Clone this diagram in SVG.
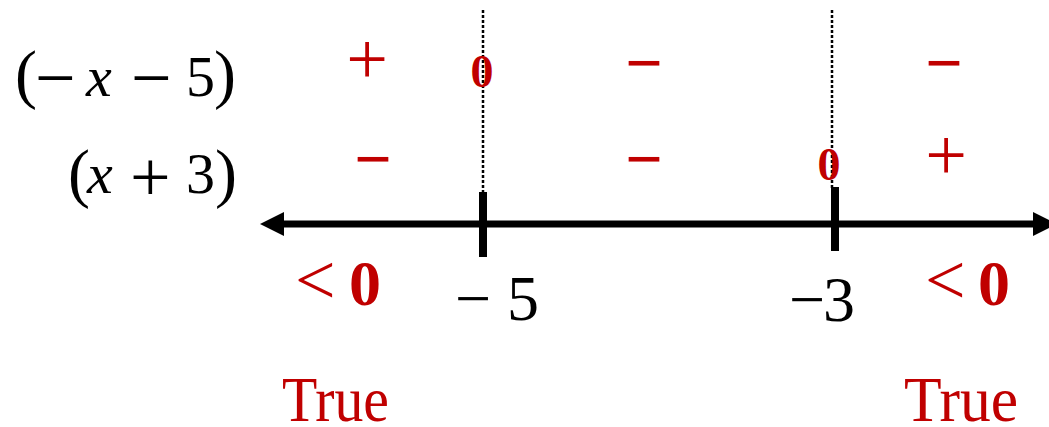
<svg xmlns="http://www.w3.org/2000/svg" width="1049" height="427" viewBox="0 0 1049 427">
<style>
.lbl{font-family:"Liberation Serif","Times New Roman",serif;fill:#000;font-size:58px}
.pr{font-size:66px}
.mn{font-size:72px}
.vx{font-size:58px;font-style:italic}
.red{font-family:"Liberation Serif","Times New Roman",serif;fill:#C00000}
.sg{font-size:66px;text-anchor:middle}
.pl{font-size:74px;text-anchor:middle}
.zr{font-size:46px;font-weight:bold;text-anchor:middle}
.lt{font-size:72px}
.num{font-family:"Liberation Serif","Times New Roman",serif;fill:#000;font-size:64px}
.tr{font-size:64px}
.dot{stroke:#000;stroke-width:2.5;stroke-dasharray:3 2;fill:none}
.tick{stroke:#000;stroke-width:8}
</style>
<g id="row-labels">
<text class="lbl" y="96"><tspan class="pr" x="15" y="96">(</tspan><tspan class="mn" x="35" y="102">−</tspan><tspan class="vx" x="86" y="96">x</tspan><tspan class="mn" x="131" y="102">−</tspan><tspan x="186" y="96">5</tspan><tspan class="pr" x="214" y="96">)</tspan></text>
<text class="lbl" y="193"><tspan class="pr" x="68" y="195">(</tspan><tspan class="vx" x="87" y="193">x</tspan><tspan class="mn" x="130" y="201">+</tspan><tspan x="186" y="193">3</tspan><tspan class="pr" x="215" y="195">)</tspan></text>
</g>
<g id="connectors">
<line class="dot" x1="483" y1="10" x2="483" y2="192"/>
<line class="dot" x1="832" y1="10" x2="832" y2="188"/>
<line x1="283" y1="224" x2="1034" y2="224" stroke="#000" stroke-width="7"/>
<path d="M260,224 L284,212 L284,236 Z" fill="#000"/>
<path d="M1057,224 L1033,212 L1033,236 Z" fill="#000"/>
<line class="tick" x1="483" y1="192" x2="483" y2="257"/>
<line class="tick" x1="835" y1="187" x2="835" y2="251"/>
</g>
<g id="signs-row1">
<text class="red pl" x="367" y="84">+</text>
<text class="red zr" x="482" y="87">0</text>
<text class="red sg" x="644" y="85" font-weight="bold">−</text>
<text class="red sg" x="944" y="85" font-weight="bold">−</text>
</g>
<g id="signs-row2">
<text class="red sg" x="373" y="181" font-weight="bold">−</text>
<text class="red sg" x="644" y="181" font-weight="bold">−</text>
<text class="red zr" x="829" y="180">0</text>
<text class="red pl" x="946" y="180">+</text>
</g>
<g id="tick-labels">
<text class="num" y="320"><tspan x="455">−</tspan><tspan x="507">5</tspan></text>
<text class="num" y="321"><tspan x="789">−</tspan><tspan x="823">3</tspan></text>
</g>
<g id="inequalities">
<text class="red lt" y="304"><tspan x="295">&lt;</tspan><tspan x="349" y="305" font-weight="bold" font-size="64">0</tspan></text>
<text class="red lt" y="304"><tspan x="925">&lt;</tspan><tspan x="978" y="305" font-weight="bold" font-size="64">0</tspan></text>
</g>
<g id="results">
<text class="red tr" x="282" y="421" textLength="107" lengthAdjust="spacingAndGlyphs">True</text>
<text class="red tr" x="904" y="421" textLength="114" lengthAdjust="spacingAndGlyphs">True</text>
</g>
</svg>
